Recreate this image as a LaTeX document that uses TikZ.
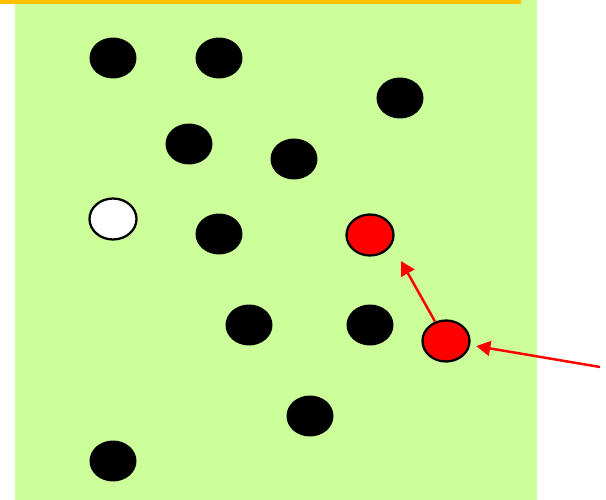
\documentclass[tikz,border=0pt]{standalone}
\usepackage{xcolor}
\usepackage{tikz}
\usetikzlibrary{arrows.meta,shapes.geometric}

\definecolor{field}{HTML}{CCFF99}
\definecolor{topbar}{HTML}{FFC000}

\begin{document}
\begin{tikzpicture}[
      x=0.02cm, y=-0.02cm,
      dot/.style={ellipse, fill=black, inner sep=0pt, minimum width=0.94cm, minimum height=0.82cm},
      ring/.style={dot, draw=black, line width=1.3pt},
      move/.style={draw=red, line width=1.4pt, -{Triangle[length=8pt, width=8.5pt]}},
    ]
    \useasboundingbox (0,0) rectangle (606,500);
    \fill[field] (15,0) rectangle (537,500);
    \fill[topbar] (0,0) rectangle (521,4);

    \node[dot] (d1) at (113,58) {};
    \node[dot] (d2) at (219,58) {};
    \node[dot] (d3) at (400,98) {};
    \node[dot] (d4) at (189,144) {};
    \node[dot] (d5) at (294,159) {};
    \node[ring, fill=white] (empty) at (113,219) {};
    \node[dot] (d6) at (219,234) {};
    \node[ring, fill=red] (target) at (370,235) {};
    \node[dot] (d7) at (249,325) {};
    \node[dot] (d8) at (370,325) {};
    \node[ring, fill=red] (mover) at (446,341) {};
    \node[dot] (d9) at (310,416) {};
    \node[dot] (d10) at (113,461) {};

    \coordinate (tip) at (401,261);
    \coordinate (from) at (600,367);

    \draw[move] (mover) -- (tip);
    \draw[move, shorten >=3.5pt] (from) -- (mover);
  \end{tikzpicture}
\end{document}
